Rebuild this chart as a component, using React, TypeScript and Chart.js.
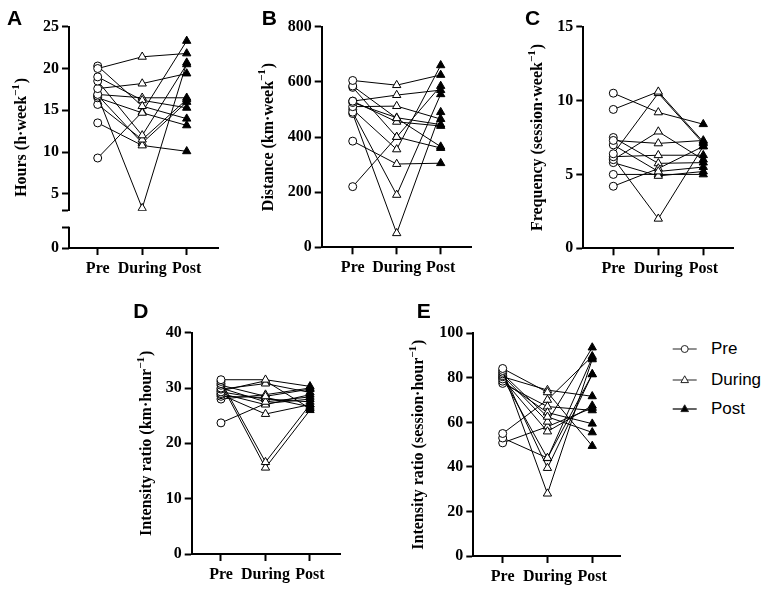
import React, { useEffect, useRef } from "react";
import { Chart, registerables } from "chart.js";

Chart.register(...registerables);

// ---------- data ----------
const phaseLabels = ["Pre", "During", "Post"];

// A: Hours (h·week-1)
const hoursPre = [20.0, 20.3, 19.0, 18.5, 17.6, 16.9, 16.7, 16.5, 15.7, 13.5, 9.3, 16.8];
const hoursDuring = [21.4, 15.5, 16.2, 12.0, 18.2, 16.5, 3.3, 14.7, 11.5, 10.8, 14.8, 11.1];
const hoursPost = [21.8, 14.0, 15.3, 20.5, 19.4, 16.5, 20.7, 13.2, 16.3, 10.1, 23.3, 16.0];
const hoursTicks = [5, 10, 15, 20, 25];

// B: Distance (km·week-1)
const distPre = [605, 585, 580, 530, 525, 510, 490, 485, 385, 220, 500, 530];
const distDuring = [588, 468, 400, 552, 470, 512, 190, 51, 302, 400, 355, 455];
const distPost = [625, 365, 360, 570, 445, 465, 555, 490, 305, 585, 660, 440];
const distTicks = [0, 200, 400, 600, 800];

// C: Frequency (session·week-1)
const freqPre = [10.5, 9.4, 7.3, 7.0, 6.4, 6.2, 6.0, 5.8, 5.0, 4.2, 6.1, 7.5];
const freqDuring = [9.2, 10.6, 7.1, 5.2, 10.5, 6.3, 7.9, 4.9, 5.0, 5.4, 2.0, 5.75];
const freqPost = [8.4, 7.2, 7.3, 5.5, 7.1, 6.3, 6.0, 5.2, 5.0, 6.9, 6.9, 5.8];
const freqTicks = [0, 5, 10, 15];

// D: Intensity ratio (km·hour-1)
const kmhPre = [31.5, 31.2, 30.8, 30.5, 30.0, 29.8, 29.3, 29.0, 28.8, 28.5, 28.0, 23.7, 29.5];
const kmhDuring = [31.5, 16.6, 15.6, 28.5, 27.5, 30.8, 28.0, 27.0, 25.3, 28.3, 28.8, 27.2, 31.3];
const kmhPost = [30.3, 27.0, 26.0, 29.8, 28.4, 29.2, 27.5, 28.8, 27.0, 26.6, 30.0, 28.0, 26.3];
const kmhTicks = [0, 10, 20, 30, 40];

// E: Intensity ratio (session·hour-1)
const sessPre = [84.2, 83.3, 82.5, 81.8, 81.0, 80.5, 79.5, 78.5, 77.5, 55.0, 53.0, 50.8, 80.0];
const sessDuring = [73.5, 28.0, 39.5, 62.5, 60.3, 74.5, 55.9, 64.4, 67.1, 70.1, 44.0, 58.1, 43.9];
const sessPost = [49.4, 88.3, 81.6, 55.5, 93.6, 71.7, 67.5, 59.4, 65.4, 89.7, 81.6, 66.5, 89.0];
const sessTicks = [0, 20, 40, 60, 80, 100];

// ---------- layout / style ----------
const SERIF = "'Liberation Serif', 'Times New Roman', serif";
const SANS = "'Liberation Sans', Arial, sans-serif";
const YW = 45;
const XH = 30;
const TICK_LEN = 7;

type Rect = { x: number; y: number; w: number; h: number };
type Area = { l: number; t: number; r: number; b: number };
interface PanelSpec {
  id: string;
  letter: string;
  title: string;
  pre: number[];
  during: number[];
  post: number[];
  ticks: number[];
  yMin: number;
  yMax: number;
  canvas: Rect;
  area: Area;
  xMin: number;
  xMax: number;
  letterAt: [number, number];
  titleX: number;
  broken?: { segTop: number; lowerMax: number; upperWeight: number; lowerWeight: number };
}

const panels: PanelSpec[] = [
  {
    id: "A", letter: "A", title: "Hours (h·week",
    pre: hoursPre, during: hoursDuring, post: hoursPost, ticks: hoursTicks,
    yMin: 3, yMax: 25,
    canvas: { x: 0, y: 0, w: 245, h: 280 },
    area: { l: 69, t: 26.7, r: 218, b: 248 },
    xMin: 0.355, xMax: 3.703,
    letterAt: [7, 25], titleX: 22,
    broken: { segTop: 1, lowerMax: 1.84, upperWeight: 184, lowerWeight: 37.3 },
  },
  {
    id: "B", letter: "B", title: "Distance (km·week",
    pre: distPre, during: distDuring, post: distPost, ticks: distTicks,
    yMin: 0, yMax: 800,
    canvas: { x: 248, y: 0, w: 245, h: 280 },
    area: { l: 321.7, t: 26.7, r: 471.7, b: 247.3 },
    xMin: 0.295, xMax: 3.705,
    letterAt: [261.7, 25], titleX: 268.5,
  },
  {
    id: "C", letter: "C", title: "Frequency (session·week",
    pre: freqPre, during: freqDuring, post: freqPost, ticks: freqTicks,
    yMin: 0, yMax: 15,
    canvas: { x: 505, y: 0, w: 265, h: 280 },
    area: { l: 583.3, t: 26.7, r: 733.3, b: 248.3 },
    xMin: 0.333, xMax: 3.667,
    letterAt: [525, 25], titleX: 538,
  },
  {
    id: "D", letter: "D", title: "Intensity ratio (km·hour",
    pre: kmhPre, during: kmhDuring, post: kmhPost, ticks: kmhTicks,
    yMin: 0, yMax: 40,
    canvas: { x: 125, y: 285, w: 240, h: 306 },
    area: { l: 191.7, t: 332.7, r: 340.7, b: 554 },
    xMin: 0.342, xMax: 3.69,
    letterAt: [133.3, 318.3], titleX: 147,
  },
  {
    id: "E", letter: "E", title: "Intensity ratio (session·hour",
    pre: sessPre, during: sessDuring, post: sessPost, ticks: sessTicks,
    yMin: 0, yMax: 100,
    canvas: { x: 395, y: 285, w: 250, h: 306 },
    area: { l: 473.3, t: 333.3, r: 620, b: 556 },
    xMin: 0.344, xMax: 3.62,
    letterAt: [416.7, 318.3], titleX: 419,
  },
];

function makeDecor(spec: PanelSpec) {
  return {
    id: "panelDecor" + spec.id,
    afterDraw(chart: any) {
      const { ctx, chartArea } = chart;
      const cx = spec.canvas.x;
      const cy = spec.canvas.y;
      ctx.save();
      ctx.fillStyle = "#000";
      ctx.font = `bold 21px ${SANS}`;
      ctx.textAlign = "left";
      ctx.textBaseline = "alphabetic";
      ctx.fillText(spec.letter, spec.letterAt[0] - cx, spec.letterAt[1] - cy);

      const mainFont = `bold 16px ${SERIF}`;
      const supFont = `bold 11px ${SERIF}`;
      ctx.font = mainFont;
      const wMain = ctx.measureText(spec.title).width;
      const wTail = ctx.measureText(")").width;
      ctx.font = supFont;
      const wSup = ctx.measureText("−1").width;
      const total = wMain + wSup + wTail + 1;
      const midY = (chartArea.top + chartArea.bottom) / 2;
      ctx.translate(spec.titleX - cx, midY);
      ctx.rotate(-Math.PI / 2);
      ctx.textBaseline = "middle";
      let pos = -total / 2;
      ctx.font = mainFont;
      ctx.fillText(spec.title, pos, 0);
      pos += wMain;
      ctx.font = supFont;
      ctx.fillText("−1", pos, -6);
      pos += wSup + 1;
      ctx.font = mainFont;
      ctx.fillText(")", pos, 0);
      ctx.restore();

      if (spec.broken) {
        const low = chart.scales.y0;
        const x = Math.round(low.right);
        ctx.save();
        ctx.strokeStyle = "#000";
        ctx.lineWidth = 2;
        ctx.beginPath();
        ctx.moveTo(x, low.getPixelForValue(0) + 1);
        ctx.lineTo(x, low.getPixelForValue(spec.broken.segTop) - 1);
        ctx.stroke();
        ctx.restore();
      }
    },
  };
}

function buildConfig(spec: PanelSpec): any {
  const font = { family: SERIF, size: 16, weight: "bold" as const };
  const datasets = spec.pre.map((p, i) => ({
    label: `S${i + 1}`,
    data: [
      { x: 1, y: p },
      { x: 2, y: spec.during[i] },
      { x: 3, y: spec.post[i] },
    ],
    xAxisID: "x",
    yAxisID: "y",
    borderColor: "#000",
    borderWidth: 1,
    pointStyle: ["circle", "triangle", "triangle"],
    pointRadius: [4, 4.8, 4.8],
    pointBackgroundColor: ["#fff", "#fff", "#000"],
    pointBorderColor: "#000",
    pointBorderWidth: 1,
    fill: false,
    tension: 0,
  }));
  const grid = {
    display: true,
    drawOnChartArea: false,
    drawTicks: true,
    tickLength: TICK_LEN,
    tickWidth: 2,
    tickColor: "#000",
  };
  const border = { display: true, color: "#000", width: 2 };
  const upperTicks = spec.broken ? [spec.yMin, ...spec.ticks] : spec.ticks;
  const scales: any = {
    x: {
      type: "linear",
      position: "bottom",
      min: spec.xMin,
      max: spec.xMax,
      afterBuildTicks: (s: any) => {
        s.ticks = [1, 2, 3].map((value) => ({ value }));
      },
      afterFit: (s: any) => {
        s.height = XH;
      },
      ticks: {
        font,
        color: "#000",
        padding: 4,
        autoSkip: false,
        maxRotation: 0,
        minRotation: 0,
        callback: (v: number) => phaseLabels[Math.round(v) - 1] ?? "",
      },
      grid,
      border,
    },
    y: {
      type: "linear",
      position: "left",
      min: spec.yMin,
      max: spec.yMax,
      afterBuildTicks: (s: any) => {
        s.ticks = upperTicks.map((value) => ({ value }));
      },
      afterFit: (s: any) => {
        s.width = YW;
      },
      ticks: {
        font,
        color: "#000",
        padding: 3,
        autoSkip: false,
        callback: (v: number) => (spec.ticks.includes(v) ? String(v) : ""),
      },
      grid,
      border,
    },
  };
  if (spec.broken) {
    const b = spec.broken;
    scales.y.stack = "left";
    scales.y.stackWeight = b.upperWeight;
    scales.y.weight = 1;
    scales.y0 = {
      type: "linear",
      position: "left",
      stack: "left",
      stackWeight: b.lowerWeight,
      weight: 0,
      min: 0,
      max: b.lowerMax,
      afterBuildTicks: (s: any) => {
        s.ticks = [0, b.segTop].map((value) => ({ value }));
      },
      afterFit: (s: any) => {
        s.width = YW;
      },
      ticks: {
        font,
        color: "#000",
        padding: 3,
        autoSkip: false,
        callback: (v: number) => (v === 0 ? "0" : ""),
      },
      grid,
      border: { display: false },
    };
  }
  const c = spec.canvas;
  const a = spec.area;
  return {
    type: "line",
    data: { datasets },
    options: {
      responsive: false,
      maintainAspectRatio: false,
      animation: false,
      devicePixelRatio: 1,
      events: [],
      layout: {
        padding: {
          left: a.l - c.x - YW,
          top: a.t - c.y,
          right: c.x + c.w - a.r,
          bottom: c.y + c.h - a.b - XH,
        },
      },
      plugins: {
        legend: { display: false },
        tooltip: { enabled: false },
      },
      scales,
    },
    plugins: [makeDecor(spec)],
  };
}

function Panel({ spec }: { spec: PanelSpec }) {
  const ref = useRef<HTMLCanvasElement>(null);
  useEffect(() => {
    if (!ref.current) return;
    const chart = new Chart(ref.current, buildConfig(spec));
    return () => chart.destroy();
  }, [spec]);
  return (
    <canvas
      ref={ref}
      width={spec.canvas.w}
      height={spec.canvas.h}
      style={{
        position: "absolute",
        left: spec.canvas.x,
        top: spec.canvas.y,
        width: spec.canvas.w,
        height: spec.canvas.h,
      }}
    />
  );
}

const legendLabels = ["Pre", "During", "Post"];
const legendRowsY = [349.3, 379.5, 409.3];

function LegendMarker({ idx }: { idx: number }) {
  const cx = 16.7;
  const cy = 15;
  return (
    <svg width={32} height={30} style={{ position: "absolute", left: 0, top: 0 }}>
      <line x1={4.7} y1={cy} x2={28.7} y2={cy} stroke="#222" strokeWidth={idx === 2 ? 1.4 : 1} />
      {idx === 0 ? (
        <circle cx={cx} cy={cy} r={3.5} fill="#fff" stroke="#222" strokeWidth={1} />
      ) : (
        <polygon
          points={`${cx},${cy - 4.2} ${cx + 3.8},${cy + 2.6} ${cx - 3.8},${cy + 2.6}`}
          fill={idx === 2 ? "#000" : "#fff"}
          stroke="#222"
          strokeWidth={1}
        />
      )}
    </svg>
  );
}

function Legend() {
  return (
    <>
      {legendLabels.map((label, i) => (
        <div
          key={label}
          style={{
            position: "absolute",
            left: 668,
            top: legendRowsY[i] - 15,
            width: 100,
            height: 30,
          }}
        >
          <LegendMarker idx={i} />
          <span
            style={{
              position: "absolute",
              left: 43,
              top: 0,
              lineHeight: "30px",
              fontSize: 17,
              fontFamily: SANS,
              color: "#000",
              whiteSpace: "nowrap",
            }}
          >
            {label}
          </span>
        </div>
      ))}
    </>
  );
}

export default function App() {
  return (
    <div
      style={{
        position: "absolute",
        left: 0,
        top: 0,
        width: 770,
        height: 591,
        background: "#fff",
        overflow: "hidden",
      }}
    >
      {panels.map((p) => (
        <Panel key={p.id} spec={p} />
      ))}
      <Legend />
    </div>
  );
}
